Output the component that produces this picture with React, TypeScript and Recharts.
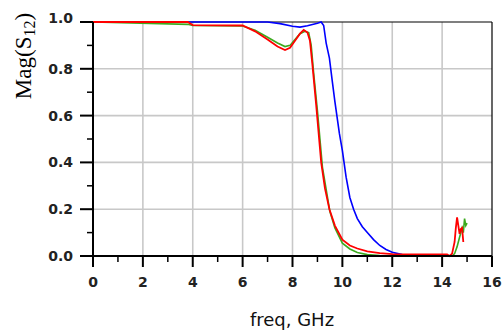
import React from "react";
import { LineChart, Line, XAxis, YAxis, ReferenceLine } from "recharts";

// frequency (GHz) and |S12| for each curve
const blueFreq = [0, 7.0, 7.5, 8.0, 8.3, 8.6, 9.0, 9.15, 9.25, 9.35, 9.48, 9.6, 9.7, 9.88, 10.0, 10.15, 10.3, 10.45, 10.6, 10.8, 11.0, 11.25, 11.5, 11.75, 12.0, 12.4, 13.0, 14.5, 15.0];
const blueMag = [1.0, 1.0, 0.993, 0.982, 0.978, 0.984, 0.995, 1.0, 0.985, 0.91, 0.846, 0.743, 0.66, 0.524, 0.45, 0.337, 0.25, 0.2, 0.16, 0.125, 0.1, 0.07, 0.045, 0.028, 0.016, 0.006, 0.003, 0.0, 0.0];

const greenFreq = [0, 3.8, 4.0, 6.0, 6.5, 7.0, 7.4, 7.7, 7.9, 8.1, 8.3, 8.5, 8.65, 8.75, 8.85, 9.0, 9.2, 9.5, 9.7, 10.0, 10.3, 10.6, 11.0, 11.5, 12.0, 14.4, 14.5, 14.6, 14.7, 14.8, 14.85, 14.9, 14.95, 15.0];
const greenMag = [1.0, 0.99, 0.985, 0.983, 0.965, 0.935, 0.91, 0.895, 0.9, 0.925, 0.95, 0.96, 0.955, 0.9, 0.78, 0.62, 0.38, 0.19, 0.12, 0.055, 0.03, 0.015, 0.006, 0.002, 0.0, 0.0, 0.01, 0.04, 0.08, 0.12, 0.1, 0.16, 0.13, 0.14];

const redFreq = [0, 3.8, 4.0, 6.0, 6.5, 7.0, 7.4, 7.7, 7.9, 8.1, 8.3, 8.45, 8.6, 8.7, 8.8, 8.95, 9.15, 9.3, 9.48, 9.7, 10.0, 10.3, 10.6, 11.0, 11.5, 12.0, 13.0, 14.2, 14.3, 14.4, 14.5, 14.55, 14.6, 14.65, 14.7, 14.75, 14.8, 14.85];
const redMag = [1.0, 1.0, 0.987, 0.985, 0.96, 0.925, 0.895, 0.88, 0.89, 0.92, 0.95, 0.966, 0.955, 0.92, 0.816, 0.645, 0.4, 0.29, 0.2, 0.13, 0.07, 0.045, 0.032, 0.02, 0.012, 0.008, 0.007, 0.007, 0.0, 0.01, 0.06, 0.12, 0.165, 0.13, 0.095, 0.115, 0.12, 0.06];

const xTicks = [0, 1, 2, 3, 4, 5, 6, 7, 8, 9, 10, 11, 12, 13, 14, 15, 16];
const yTicks = [0, 0.1, 0.2, 0.3, 0.4, 0.5, 0.6, 0.7, 0.8, 0.9, 1.0];
const xGrid = [2, 4, 6, 8, 10, 12, 14];
const yGrid = [0.2, 0.4, 0.6, 0.8];

const toPoints = (fs: number[], ms: number[]) => fs.map((f, i) => ({ f, m: ms[i] }));
const blue = toPoints(blueFreq, blueMag);
const green = toPoints(greenFreq, greenMag);
const red = toPoints(redFreq, redMag);

const tickFont = { fontFamily: "DejaVu Sans", fontSize: 14, fontWeight: "bold" as const, fill: "#222" };

const XTick = (props: any) => {
  const { x, y, payload } = props;
  const major = payload.value % 2 === 0;
  return (
    <g>
      <line x1={x} x2={x} y1={y} y2={y + (major ? 11 : 6)} stroke="#000" strokeWidth={major ? 2 : 1.5} />
      {major && (
        <text x={x} y={y + 31} textAnchor="middle" {...tickFont}>
          {payload.value}
        </text>
      )}
    </g>
  );
};

const YTick = (props: any) => {
  const { x, y, payload } = props;
  const major = Math.round(payload.value * 10) % 2 === 0;
  const top = payload.value > 0.95;
  return (
    <g>
      <line x1={x} x2={x - (major ? 13 : 6)} y1={y} y2={y} stroke="#000" strokeWidth={major ? 2 : 1.5} />
      {major && (
        <text x={x - 20} y={y + (top ? 1 : 5)} textAnchor="end" {...tickFont}>
          {payload.value.toFixed(1)}
        </text>
      )}
    </g>
  );
};

const YLabel = () => (
  <text
    transform="rotate(-90, 31, 56)"
    x={31}
    y={56}
    textAnchor="middle"
    fontFamily="Liberation Serif"
    fontSize={23}
    fill="#000"
  >
    Mag(S
    <tspan fontSize={16} dy={4}>12</tspan>
    <tspan dy={-4}>)</tspan>
  </text>
);

const XLabel = () => (
  <text x={292} y={326} textAnchor="middle" fontFamily="DejaVu Sans" fontSize={18} fill="#111">
    freq, GHz
  </text>
);

export default function App() {
  return (
    <div style={{ position: "absolute", left: 0, top: 0, background: "#fff" }}>
      <LineChart width={503} height={334} margin={{ top: 22, right: 11, left: 0, bottom: 0 }}>
        <XAxis
          type="number"
          dataKey="f"
          domain={[0, 16]}
          ticks={xTicks}
          interval={0}
          tickLine={false}
          tickSize={0}
          tickMargin={0}
          tick={<XTick />}
          axisLine={{ stroke: "#000", strokeWidth: 2 }}
          height={78}
          label={<XLabel />}
        />
        <YAxis
          type="number"
          domain={[0, 1]}
          ticks={yTicks}
          interval={0}
          tickLine={false}
          tickSize={0}
          tickMargin={0}
          tick={<YTick />}
          axisLine={{ stroke: "#000", strokeWidth: 2 }}
          width={93}
          label={<YLabel />}
        />
        {xGrid.map((v) => (
          <ReferenceLine key={"gx" + v} x={v} stroke="#c8c8c8" strokeWidth={1.6} />
        ))}
        {yGrid.map((v) => (
          <ReferenceLine key={"gy" + v} y={v} stroke="#c8c8c8" strokeWidth={1.6} />
        ))}
        <ReferenceLine y={1} stroke="#000" strokeWidth={1.2} />
        <ReferenceLine x={16} stroke="#000" strokeWidth={1.2} />
        <Line data={blue} dataKey="m" type="linear" stroke="#0000ff" strokeWidth={1.6} dot={false} isAnimationActive={false} />
        <Line data={green} dataKey="m" type="linear" stroke="#3caa1e" strokeWidth={1.6} dot={false} isAnimationActive={false} />
        <Line data={red} dataKey="m" type="linear" stroke="#ff0000" strokeWidth={1.8} dot={false} isAnimationActive={false} />
      </LineChart>
    </div>
  );
}
